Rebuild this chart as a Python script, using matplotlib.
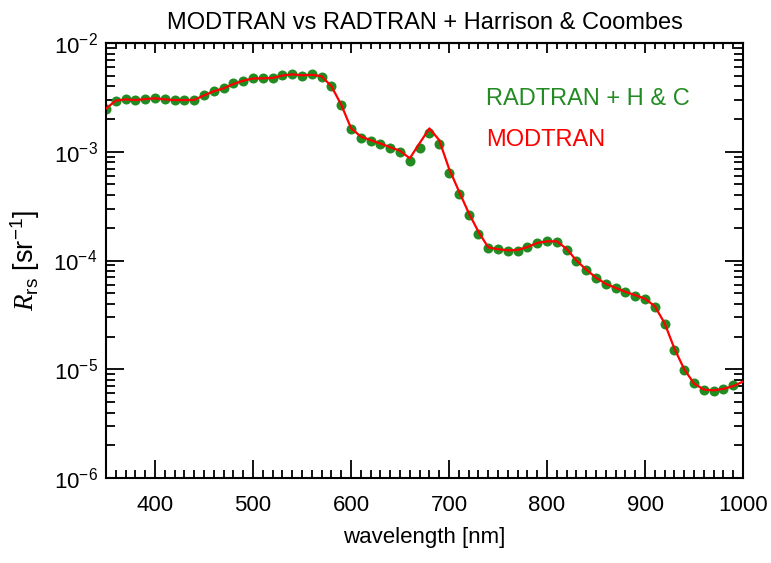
import matplotlib
matplotlib.use("Agg")
import matplotlib.pyplot as plt
from matplotlib.ticker import MultipleLocator, LogLocator, NullFormatter

plt.rcParams['font.family'] = ['Liberation Sans', 'DejaVu Sans']
plt.rcParams['mathtext.fontset'] = 'custom'
plt.rcParams['mathtext.rm'] = 'Liberation Sans'
plt.rcParams['mathtext.it'] = 'Liberation Serif:italic'
plt.rcParams['mathtext.default'] = 'regular'

# RADTRAN + Harrison & Coombes (dots), 10 nm sampling
wl_radtran = list(range(350, 1000, 10))
rrs_radtran = [
    2.47e-3, 2.93e-3, 3.03e-3, 2.99e-3, 3.05e-3, 3.14e-3, 3.03e-3, 2.99e-3, 2.99e-3, 3.00e-3,
    3.33e-3, 3.62e-3, 3.83e-3, 4.26e-3, 4.50e-3, 4.77e-3, 4.74e-3, 4.77e-3, 5.08e-3, 5.19e-3,
    5.00e-3, 5.15e-3, 4.90e-3, 4.03e-3, 2.71e-3, 1.63e-3, 1.35e-3, 1.26e-3, 1.19e-3, 1.08e-3,
    1.00e-3, 8.30e-4, 1.08e-3, 1.48e-3, 1.18e-3, 6.40e-4, 4.06e-4, 2.63e-4, 1.77e-4, 1.31e-4,
    1.27e-4, 1.22e-4, 1.23e-4, 1.32e-4, 1.44e-4, 1.50e-4, 1.49e-4, 1.25e-4, 9.84e-5, 8.18e-5,
    6.86e-5, 6.04e-5, 5.55e-5, 5.10e-5, 4.75e-5, 4.40e-5, 3.76e-5, 2.60e-5, 1.50e-5, 9.80e-6,
    7.50e-6, 6.45e-6, 6.30e-6, 6.65e-6, 7.20e-6,
]

# MODTRAN (line)
wl_modtran = list(range(350, 1001, 10))
rrs_modtran = [
    2.50e-3, 2.95e-3, 3.03e-3, 2.99e-3, 3.05e-3, 3.10e-3, 3.03e-3, 2.99e-3, 2.99e-3, 3.00e-3,
    3.30e-3, 3.60e-3, 3.83e-3, 4.20e-3, 4.50e-3, 4.72e-3, 4.74e-3, 4.77e-3, 5.02e-3, 5.15e-3,
    5.05e-3, 5.10e-3, 4.95e-3, 4.00e-3, 2.71e-3, 1.65e-3, 1.38e-3, 1.28e-3, 1.19e-3, 1.10e-3,
    1.02e-3, 8.70e-4, 1.20e-3, 1.64e-3, 1.28e-3, 7.00e-4, 4.36e-4, 2.75e-4, 1.84e-4, 1.32e-4,
    1.27e-4, 1.24e-4, 1.25e-4, 1.33e-4, 1.45e-4, 1.50e-4, 1.50e-4, 1.28e-4, 1.00e-4, 8.25e-5,
    6.95e-5, 6.10e-5, 5.60e-5, 5.15e-5, 4.80e-5, 4.45e-5, 3.80e-5, 2.65e-5, 1.55e-5, 1.00e-5,
    7.40e-6, 6.50e-6, 6.40e-6, 6.60e-6, 7.00e-6, 7.70e-6,
]

x_range = (350, 1000)
y_range = (1e-6, 1e-2)
x_major = [400, 500, 600, 700, 800, 900, 1000]

green = '#228B22'
red = '#FF0000'

fig = plt.figure(figsize=(7.71, 5.63), dpi=100)
ax = fig.add_axes([0.1375, 0.151, 0.8262, 0.7726])

ax.plot(wl_radtran, rrs_radtran, 'o', color=green, markersize=7.2,
        markeredgewidth=0, zorder=2)
ax.plot(wl_modtran, rrs_modtran, '-', color=red, linewidth=1.6, zorder=3)

ax.set_yscale('log')
ax.set_xlim(*x_range)
ax.set_ylim(*y_range)

ax.set_xticks(x_major)
ax.xaxis.set_minor_locator(MultipleLocator(10))
ax.yaxis.set_major_locator(LogLocator(base=10, numticks=10))
ax.yaxis.set_minor_locator(LogLocator(base=10, subs=range(2, 10), numticks=20))
ax.yaxis.set_minor_formatter(NullFormatter())

for s in ax.spines.values():
    s.set_linewidth(1.5)

ax.tick_params(axis='both', which='both', direction='in', width=1.3,
               labelsize=16, top=False, right=True)
ax.tick_params(axis='x', which='major', length=13, pad=12)
ax.tick_params(axis='x', which='minor', length=6)
ax.tick_params(axis='y', which='major', length=13, pad=6)
ax.tick_params(axis='y', which='minor', length=6.5)

# shorter ticks along the top edge
top = ax.secondary_xaxis('top')
top.set_xticks(x_major)
top.xaxis.set_minor_locator(MultipleLocator(10))
top.tick_params(axis='x', which='major', direction='in', length=7, width=1.3,
                labeltop=False)
top.tick_params(axis='x', which='minor', direction='in', length=4, width=1.3)
top.spines['top'].set_linewidth(1.5)

ax.set_xlabel('wavelength [nm]', fontsize=16, labelpad=8)
ax.set_ylabel(r'$\mathit{R}_{\mathrm{rs}}$ [sr$^{\mathrm{-1}}$]', fontsize=19.5,
              labelpad=8)
ax.set_title('MODTRAN vs RADTRAN + Harrison & Coombes', fontsize=17, pad=10)

ax.text(0.597, 0.872, 'RADTRAN + H & C', transform=ax.transAxes,
        color=green, fontsize=17, va='center', ha='left')
ax.text(0.597, 0.776, 'MODTRAN', transform=ax.transAxes,
        color=red, fontsize=17, va='center', ha='left')

fig.savefig('out.png', dpi=100)
